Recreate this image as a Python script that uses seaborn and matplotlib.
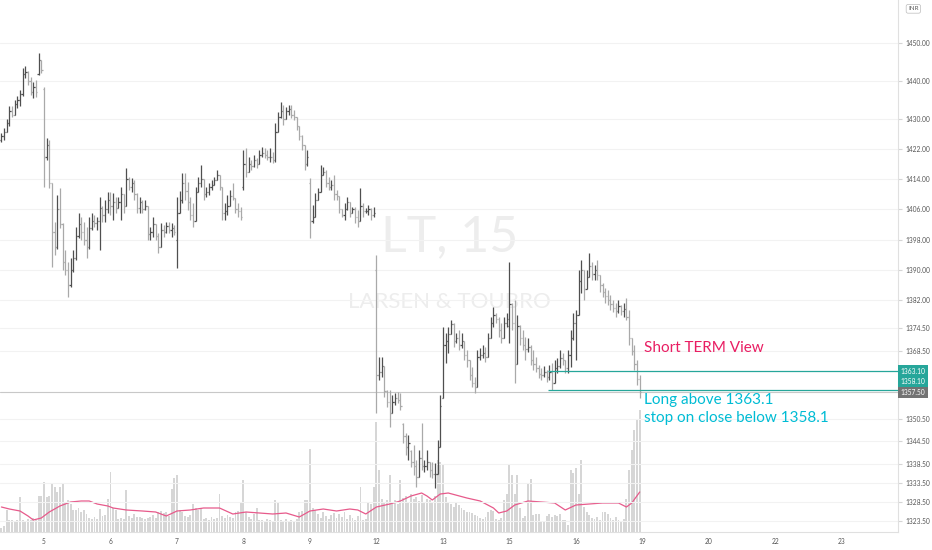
import numpy as np
import pandas as pd
import matplotlib
matplotlib.use('Agg')
import matplotlib.pyplot as plt
import matplotlib.transforms as mtrans
import seaborn as sns

# LT 15 min bars, 4th (last 16 bars) to 16th, price in INR
opens = [
    1424.5, 1425.5, 1426.5, 1429.0, 1432.0, 1431.0, 1434.0, 1435.0, 1436.5, 1442.0, 1442.5, 1440.0, 1437.0, 1438.5, 1442.0, 1445.5,
    1438.0, 1420.0, 1423.0, 1413.0, 1400.0, 1396.0, 1406.0, 1402.0, 1392.0, 1390.0, 1386.0, 1390.0, 1393.0, 1399.0, 1402.0, 1400.0, 1398.0, 1396.0, 1401.0, 1403.0, 1402.5, 1403.0, 1406.5, 1404.5, 1406.0,
    1408.5, 1407.0, 1408.0, 1406.5, 1408.0, 1410.0, 1407.0, 1414.0, 1412.0, 1413.0, 1410.0, 1406.5, 1408.0, 1406.0, 1407.0, 1399.5, 1400.0, 1402.0, 1399.0, 1396.0, 1400.5, 1400.0, 1401.5, 1400.5, 1401.0,
    1398.0, 1405.0, 1408.5, 1413.0, 1411.0, 1408.0, 1404.5, 1403.0, 1410.5, 1413.0, 1414.0, 1410.0, 1410.5, 1412.0, 1412.5, 1413.8, 1415.0, 1412.0, 1405.0, 1405.5, 1407.0, 1409.5, 1409.0, 1406.0, 1405.5,
    1412.0, 1418.0, 1416.0, 1418.0, 1417.5, 1419.0, 1418.0, 1420.5, 1421.0, 1420.5, 1420.0, 1420.0, 1419.0, 1426.5, 1430.5, 1432.0, 1430.0, 1432.0, 1432.5, 1431.0, 1430.5, 1428.0, 1425.5, 1423.0, 1418.0,
    1413.0, 1403.0, 1404.0, 1408.5, 1410.5, 1415.0, 1416.0, 1413.0, 1412.0, 1412.5, 1410.0, 1409.5, 1406.0, 1404.5, 1406.0, 1408.0, 1405.0, 1406.0, 1404.0, 1403.0, 1407.0, 1405.5, 1405.5, 1406.0, 1404.5,
    1390.0, 1362.0, 1363.0, 1364.5, 1358.0, 1355.0, 1352.0, 1355.0, 1356.0, 1355.5, 1349.0, 1346.0, 1343.0, 1342.0, 1339.0, 1338.0, 1335.0, 1340.0, 1338.0, 1338.0, 1339.0, 1337.0, 1336.0, 1336.0, 1343.0,
    1356.0, 1370.0, 1371.0, 1373.0, 1375.5, 1371.0, 1372.0, 1370.0, 1371.0, 1367.5, 1366.0, 1362.0, 1360.0, 1359.0, 1367.0, 1367.5, 1368.0, 1367.0, 1372.0, 1376.0, 1378.0, 1377.0, 1374.0, 1372.0, 1376.0,
    1375.0, 1381.0, 1376.0, 1365.0, 1375.0, 1372.0, 1370.0, 1369.0, 1369.5, 1366.0, 1365.0, 1364.0, 1362.5, 1362.0, 1363.0, 1361.5, 1363.0, 1360.0, 1364.0, 1364.5, 1366.5, 1366.0, 1364.0, 1367.5, 1372.0,
    1376.0, 1378.0, 1387.0, 1390.0, 1385.0, 1388.0, 1391.0, 1389.0, 1390.0, 1388.5, 1386.0, 1384.0, 1383.0, 1382.0, 1381.0, 1380.0, 1379.0, 1380.5, 1379.0, 1379.5, 1377.5, 1372.0, 1368.5, 1365.0, 1361.0,
]
highs = [
    1426.2, 1427.5, 1430.0, 1433.5, 1433.5, 1435.0, 1436.0, 1437.6, 1443.5, 1444.0, 1442.8, 1441.0, 1439.7, 1440.3, 1447.5, 1445.6,
    1438.5, 1425.0, 1424.4, 1413.0, 1402.7, 1409.8, 1411.7, 1402.5, 1395.2, 1392.0, 1393.1, 1395.2, 1401.3, 1405.0, 1404.0, 1402.7, 1401.3, 1404.0, 1405.0, 1404.5, 1404.0, 1409.3, 1406.8, 1408.5, 1410.6,
    1410.6, 1410.3, 1409.3, 1409.3, 1412.0, 1410.0, 1417.0, 1414.6, 1414.3, 1413.8, 1410.3, 1409.3, 1408.5, 1408.5, 1407.0, 1401.3, 1404.0, 1402.0, 1399.7, 1402.4, 1401.9, 1402.7, 1402.7, 1402.4, 1401.9,
    1409.3, 1411.0, 1415.6, 1415.6, 1413.3, 1409.3, 1407.7, 1412.0, 1414.6, 1417.8, 1414.0, 1412.0, 1413.0, 1413.8, 1414.6, 1416.4, 1415.1, 1412.0, 1407.7, 1409.8, 1411.1, 1413.0, 1409.0, 1407.7, 1406.6,
    1421.7, 1422.3, 1419.9, 1419.1, 1420.4, 1419.6, 1421.7, 1422.5, 1422.3, 1421.7, 1422.3, 1421.2, 1428.9, 1431.8, 1434.5, 1433.7, 1433.1, 1433.7, 1433.7, 1432.3, 1430.5, 1428.0, 1425.7, 1423.0, 1421.7,
    1414.3, 1407.2, 1410.3, 1411.7, 1417.8, 1417.2, 1416.4, 1414.6, 1413.8, 1415.1, 1411.1, 1409.5, 1406.0, 1407.7, 1409.3, 1408.0, 1406.6, 1406.6, 1405.8, 1411.7, 1407.7, 1406.4, 1407.2, 1406.4, 1406.6,
    1393.9, 1366.9, 1366.9, 1364.5, 1358.1, 1358.1, 1356.8, 1357.3, 1357.6, 1357.3, 1349.4, 1346.7, 1346.2, 1342.2, 1343.6, 1339.6, 1342.2, 1349.4, 1339.6, 1342.2, 1339.0, 1339.0, 1338.8, 1344.9, 1356.8,
    1374.8, 1373.2, 1374.8, 1376.7, 1375.9, 1373.2, 1374.0, 1373.2, 1371.0, 1368.7, 1366.1, 1364.2, 1361.6, 1368.7, 1369.3, 1370.1, 1369.5, 1373.2, 1377.5, 1380.1, 1378.5, 1377.5, 1375.9, 1377.5, 1378.5,
    1392.1, 1381.2, 1382.0, 1378.0, 1375.4, 1374.0, 1372.2, 1371.9, 1370.1, 1368.7, 1366.9, 1364.8, 1364.0, 1364.5, 1363.4, 1364.8, 1365.3, 1366.1, 1366.6, 1368.7, 1367.9, 1366.1, 1368.7, 1374.0, 1378.5,
    1379.3, 1389.9, 1392.6, 1390.0, 1389.9, 1394.4, 1392.1, 1391.3, 1392.6, 1388.6, 1386.5, 1385.2, 1384.6, 1383.3, 1382.0, 1381.2, 1382.0, 1380.7, 1381.2, 1382.5, 1379.3, 1372.0, 1370.1, 1366.1, 1362.1,
]
lows = [
    1423.9, 1424.4, 1426.5, 1428.0, 1430.5, 1431.0, 1433.0, 1433.5, 1436.0, 1440.8, 1439.0, 1436.3, 1435.5, 1435.8, 1441.6, 1442.2,
    1412.0, 1419.0, 1411.7, 1390.7, 1393.9, 1395.5, 1401.0, 1389.9, 1388.6, 1382.8, 1385.5, 1389.5, 1392.6, 1398.5, 1397.9, 1396.6, 1393.1, 1395.5, 1400.5, 1401.3, 1400.5, 1395.2, 1402.7, 1402.7, 1405.0,
    1404.5, 1403.2, 1405.0, 1406.5, 1403.2, 1405.0, 1407.0, 1411.1, 1410.6, 1408.5, 1405.0, 1405.0, 1405.0, 1405.8, 1397.9, 1397.9, 1398.7, 1397.9, 1394.4, 1396.0, 1398.7, 1399.7, 1399.7, 1398.7, 1399.2,
    1390.5, 1405.0, 1407.7, 1408.5, 1405.8, 1403.2, 1401.3, 1403.0, 1410.5, 1412.0, 1408.5, 1409.3, 1409.8, 1411.1, 1412.5, 1413.8, 1411.1, 1403.2, 1403.2, 1404.5, 1407.0, 1408.5, 1405.0, 1404.0, 1403.2,
    1411.1, 1414.6, 1416.0, 1416.4, 1417.2, 1417.0, 1418.0, 1419.9, 1419.6, 1419.1, 1418.6, 1418.3, 1418.6, 1426.5, 1430.2, 1428.4, 1430.0, 1431.0, 1430.2, 1429.7, 1427.0, 1424.4, 1421.7, 1416.4, 1417.5,
    1398.4, 1402.4, 1404.0, 1408.5, 1410.5, 1415.0, 1412.0, 1411.1, 1411.1, 1408.5, 1408.5, 1405.0, 1404.0, 1403.2, 1405.8, 1404.0, 1405.0, 1402.4, 1401.3, 1403.0, 1404.0, 1405.0, 1404.5, 1403.2, 1404.0,
    1352.0, 1360.8, 1361.6, 1356.3, 1353.6, 1348.3, 1352.0, 1354.2, 1354.7, 1352.8, 1344.1, 1340.9, 1339.6, 1337.7, 1335.6, 1332.4, 1335.0, 1336.9, 1336.4, 1336.9, 1335.1, 1334.8, 1332.2, 1336.0, 1343.0,
    1356.0, 1365.3, 1367.9, 1373.0, 1369.5, 1370.6, 1368.7, 1369.3, 1366.1, 1364.2, 1360.8, 1358.9, 1357.3, 1358.9, 1366.1, 1366.6, 1365.6, 1367.0, 1372.0, 1374.8, 1375.9, 1372.2, 1370.6, 1372.0, 1374.8,
    1370.6, 1374.0, 1360.0, 1365.0, 1370.0, 1368.7, 1366.1, 1368.2, 1364.8, 1363.4, 1362.9, 1361.3, 1360.8, 1361.6, 1360.3, 1360.8, 1358.1, 1360.0, 1362.6, 1364.0, 1364.8, 1362.6, 1362.6, 1364.2, 1371.4,
    1366.1, 1378.0, 1383.8, 1382.0, 1385.0, 1388.0, 1387.3, 1387.3, 1387.3, 1384.1, 1382.8, 1381.2, 1380.7, 1379.3, 1378.8, 1377.5, 1378.5, 1378.0, 1377.5, 1376.7, 1370.1, 1367.4, 1363.4, 1359.5, 1356.0,
]
closes = [
    1425.5, 1426.5, 1429.0, 1432.0, 1431.0, 1434.0, 1435.0, 1436.5, 1442.0, 1442.5, 1440.0, 1437.0, 1438.5, 1437.0, 1445.5, 1443.0,
    1420.0, 1423.0, 1413.0, 1400.0, 1396.0, 1406.0, 1402.0, 1392.0, 1390.0, 1386.0, 1390.0, 1393.0, 1399.0, 1402.0, 1400.0, 1398.0, 1396.0, 1401.0, 1403.0, 1402.5, 1403.0, 1406.5, 1404.5, 1406.0, 1408.5,
    1407.0, 1408.0, 1406.5, 1408.0, 1410.0, 1407.0, 1414.0, 1412.0, 1413.0, 1410.0, 1406.5, 1408.0, 1406.0, 1407.0, 1399.5, 1400.0, 1402.0, 1399.0, 1396.0, 1400.5, 1400.0, 1401.5, 1400.5, 1401.0, 1400.0,
    1405.0, 1408.5, 1413.0, 1411.0, 1408.0, 1404.5, 1403.0, 1410.5, 1413.0, 1414.0, 1410.0, 1410.5, 1412.0, 1412.5, 1413.8, 1415.0, 1412.0, 1405.0, 1405.5, 1407.0, 1409.5, 1409.0, 1406.0, 1405.5, 1404.0,
    1418.0, 1416.0, 1418.0, 1417.5, 1419.0, 1418.0, 1420.5, 1421.0, 1420.5, 1420.0, 1420.0, 1419.0, 1426.5, 1430.5, 1432.0, 1430.0, 1432.0, 1432.5, 1431.0, 1430.5, 1428.0, 1425.5, 1423.0, 1418.0, 1420.0,
    1403.0, 1404.0, 1408.5, 1410.5, 1415.0, 1416.0, 1413.0, 1412.0, 1412.5, 1410.0, 1409.5, 1406.0, 1404.5, 1406.0, 1408.0, 1405.0, 1406.0, 1404.0, 1403.0, 1407.0, 1405.5, 1405.5, 1406.0, 1404.5, 1405.0,
    1362.0, 1363.0, 1364.5, 1358.0, 1355.0, 1352.0, 1355.0, 1356.0, 1355.5, 1354.0, 1346.0, 1343.0, 1344.0, 1339.0, 1338.0, 1335.0, 1340.0, 1338.0, 1338.0, 1339.0, 1337.0, 1336.0, 1336.0, 1343.0, 1354.0,
    1370.0, 1371.0, 1373.0, 1375.5, 1371.0, 1372.0, 1370.0, 1371.0, 1367.5, 1366.0, 1362.0, 1360.0, 1359.0, 1367.0, 1367.5, 1368.0, 1367.0, 1372.0, 1376.0, 1378.0, 1377.0, 1374.0, 1372.0, 1376.0, 1377.0,
    1381.0, 1376.0, 1365.0, 1375.0, 1372.0, 1370.0, 1369.0, 1369.5, 1366.0, 1365.0, 1364.0, 1362.5, 1362.0, 1363.0, 1361.5, 1363.0, 1360.0, 1364.0, 1364.5, 1366.5, 1366.0, 1364.0, 1367.5, 1372.0, 1376.0,
    1378.0, 1387.0, 1390.0, 1385.0, 1388.0, 1391.0, 1389.0, 1390.0, 1388.5, 1386.0, 1384.0, 1383.0, 1382.0, 1381.0, 1380.0, 1379.0, 1380.5, 1379.0, 1379.5, 1377.5, 1372.0, 1368.5, 1365.0, 1361.0, 1357.5,
]
# volume, thousand shares
volumes = [
    4, 6, 22, 12, 12, 11, 12, 35, 12, 11, 13, 12, 14, 12, 36, 36,
    50, 35, 36, 49, 45, 40, 45, 49, 30, 32, 28, 22, 22, 24, 20, 22, 18, 14, 13, 15, 13, 23, 16, 17, 33,
    60, 24, 22, 13, 14, 13, 42, 16, 14, 18, 15, 15, 14, 13, 14, 15, 17, 14, 20, 21, 19, 20, 16, 43, 54,
    57, 22, 20, 16, 15, 17, 28, 24, 22, 24, 13, 14, 12, 15, 13, 14, 38, 16, 14, 17, 15, 14, 20, 21, 30,
    52, 20, 15, 13, 18, 24, 12, 12, 11, 13, 12, 11, 32, 30, 12, 11, 13, 10, 12, 11, 13, 20, 21, 32, 32,
    83, 24, 22, 18, 14, 20, 16, 13, 17, 19, 14, 18, 15, 20, 13, 17, 14, 12, 16, 45, 12, 13, 30, 28, 45,
    110, 62, 33, 30, 32, 57, 30, 32, 28, 52, 34, 36, 30, 38, 33, 35, 31, 37, 30, 33, 32, 30, 36, 72, 70,
    68, 35, 30, 28, 25, 30, 27, 24, 22, 20, 20, 19, 17, 16, 14, 13, 15, 20, 22, 21, 13, 12, 14, 32, 38,
    68, 57, 38, 57, 24, 14, 16, 49, 53, 17, 18, 18, 10, 11, 16, 18, 15, 17, 16, 18, 12, 12, 7, 62, 59,
    64, 38, 72, 25, 20, 17, 14, 13, 15, 12, 20, 20, 18, 14, 12, 15, 12, 10, 13, 33, 62, 82, 102, 112, 122,
]
# volume moving average
ma_bar = [0, 3, 7, 10, 12, 15, 18, 22, 26, 30, 33, 36, 40, 42, 47, 53, 58, 62, 66, 71,
          76, 82, 87, 92, 97, 102, 107, 112, 116, 121, 126, 131, 134, 137, 141, 146, 150, 154, 158, 160,
          162, 165, 168, 175, 180, 185, 187, 190, 193, 198, 203, 208, 212, 216, 221, 226, 232, 235, 237, 240]
ma_vol = [25, 23, 21, 16, 12, 14, 20, 26, 30, 31, 31, 28, 26, 24, 22, 21, 20, 16, 21, 22,
          24, 24, 18, 20, 19, 18, 19, 15, 21, 23, 21, 23, 22, 18, 25, 28, 31, 36, 39, 36,
          32, 38, 39, 34, 31, 24, 19, 21, 27, 31, 30, 29, 22, 27, 28, 29, 29, 25, 29, 40]

day_bar = [16, 41, 66, 91, 116, 141, 166, 191, 216, 241, 266, 291, 316]
day_labels = ['5', '6', '7', '8', '9', '12', '13', '15', '16', '19', '20', '22', '23']
price_ticks = [1450.0, 1440.0, 1430.0, 1422.0, 1414.0, 1406.0, 1398.0, 1390.0, 1382.0,
               1374.5, 1368.5, 1350.5, 1344.5, 1338.5, 1333.5, 1328.5, 1323.5]
long_level = 1363.1
stop_level = 1358.1
last_price = 1357.5
level_start_bar = 205.5

sns.set_style("white")
plt.rcParams['font.family'] = ['Lato', 'DejaVu Sans']

df = pd.DataFrame({'open': opens, 'high': highs, 'low': lows, 'close': closes, 'volume': volumes})
df['bar'] = np.arange(len(df))
ma_df = pd.DataFrame({'bar': ma_bar, 'ma': ma_vol})

fig = plt.figure(figsize=(9.32, 5.5), dpi=100)
ax = fig.add_axes([0, 18 / 550, 898 / 932, 532 / 550])
axv = ax.twinx()
ax.set_zorder(2)
axv.set_zorder(1)
ax.patch.set_visible(False)

# volume pane overlay
axv.bar(df['bar'], df['volume'], width=0.72, color='#d6d6d6', linewidth=0)
sns.lineplot(data=ma_df, x='bar', y='ma', ax=axv, color='#e75a8b', linewidth=0.9)
axv.set_ylim(0, 532)
axv.set_yticks([])
axv.set_xlabel('')
axv.set_ylabel('')
for s in axv.spines.values():
    s.set_visible(False)

# OHLC bars
up = df['close'] >= df['open']
cols = np.where(up, '#4f4f4f', '#a9a9a9')
ax.axhline(last_price, color='#c8c8c8', lw=0.8, zorder=1)
ax.vlines(df['bar'], df['low'], df['high'], colors=cols, lw=0.9, zorder=3)
ax.hlines(df['open'], df['bar'] - 0.45, df['bar'], colors=cols, lw=0.9, zorder=3)
ax.hlines(df['close'], df['bar'], df['bar'] + 0.45, colors=cols, lw=0.9, zorder=3)

ax.set_xlim(-0.53, 337.1)
ax.set_ylim(1320.5, 1461.5)
ax.hlines([long_level, stop_level], level_start_bar, 337.1, color='#26a69a', lw=0.9, zorder=4)

# watermark
ax.text(168.6, 1398.7, 'LT, 15', ha='center', va='center', fontsize=36, color='#ededed', zorder=0)
ax.text(168.6, 1381.5, 'LARSEN & TOUBRO', ha='center', va='center', fontsize=16, color='#ededed', zorder=0)

# notes
ax.text(241.6, 1369.3, 'Short TERM View', ha='left', va='center', fontsize=11, color='#e91e63', zorder=5)
ax.text(241.6, 1355.5, 'Long above 1363.1', ha='left', va='center', fontsize=11, color='#00bcd4', zorder=5)
ax.text(241.6, 1350.7, 'stop on close below 1358.1', ha='left', va='center', fontsize=11, color='#00bcd4', zorder=5)

# price scale
ax.yaxis.tick_right()
ax.set_yticks(price_ticks)
ax.set_yticklabels([f'{v:.2f}' for v in price_ticks])
ax.tick_params(axis='y', length=3, color='#d5d5d5', labelsize=4.8, labelcolor='#555555', pad=2)
ax.set_xticks(day_bar)
ax.set_xticklabels(day_labels)
ax.tick_params(axis='x', length=0, labelsize=4.8, labelcolor='#555555', pad=4)
ax.grid(axis='y', color='#f2f2f2', lw=0.8)
ax.set_axisbelow(True)
for side in ['top', 'left']:
    ax.spines[side].set_visible(False)
for side in ['right', 'bottom']:
    ax.spines[side].set_color('#e0e0e0')
    ax.spines[side].set_linewidth(0.8)

# price labels on the scale
tr = mtrans.blended_transform_factory(ax.transAxes, ax.transData)
ax.text(1.003, long_level, f'{long_level:.2f}', transform=tr, ha='left', va='center', fontsize=4.8,
        color='white', bbox=dict(boxstyle='square,pad=0.35', fc='#26a69a', ec='none'), zorder=6)
ax.text(1.003, 1360.5, f'{stop_level:.2f}', transform=tr, ha='left', va='center', fontsize=4.8,
        color='white', bbox=dict(boxstyle='square,pad=0.35', fc='#26a69a', ec='none'), zorder=6)
ax.text(1.003, last_price, f'{last_price:.2f}', transform=tr, ha='left', va='center', fontsize=4.8,
        color='white', bbox=dict(boxstyle='square,pad=0.35', fc='#737373', ec='none'), zorder=6)

fig.text(0.98, 0.984, 'INR', ha='center', va='center', fontsize=4.5, color='#555555',
         bbox=dict(boxstyle='round,pad=0.3', fc='white', ec='#bbbbbb', lw=0.5))

fig.savefig('out.png', dpi=100)
